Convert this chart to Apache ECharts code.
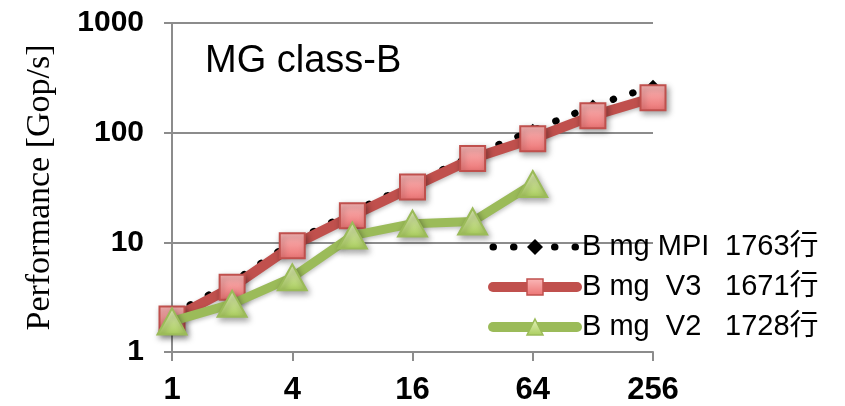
<!DOCTYPE html>
<html>
<head>
<meta charset="utf-8">
<script src="https://cdn.jsdelivr.net/npm/echarts@6/dist/echarts.min.js"></script>
<style>html,body{margin:0;padding:0;background:#fff}#c{width:845px;height:406px}</style>
</head>
<body>
<div id="c"></div>
<script>
const xValues = [1, 2, 4, 8, 16, 32, 64, 128, 256];
const mpiValues = [2.2, 4.3, 10, 19, 34, 62, 105, 175, 265];
const v3Values = [2.0, 3.9, 9.3, 17.5, 32, 58, 88, 143, 208];
const v2Values = [1.9, 2.75, 4.8, 11.5, 14.8, 15.5, 34];
const seriesNames = ['B mg MPI', 'B mg  V3', 'B mg  V2'];
const lineCounts = ['1763行', '1671行', '1728行'];
const titleText = 'MG class-B';
const yAxisName = 'Performance [Gop/s]';

function pairs(vals) { return vals.map((v, i) => [xValues[i], v]); }
const fullNames = seriesNames.map((n, i) => n + '|' + lineCounts[i]);

const chart = echarts.init(document.getElementById('c'), null, {renderer: 'canvas'});
const gray = '#8c8c8c';
const shadow = {shadowBlur: 6, shadowOffsetX: 2, shadowOffsetY: 3, shadowColor: 'rgba(0,0,0,0.35)'};
const redFill = new echarts.graphic.LinearGradient(0, 0, 0, 1, [{offset: 0, color: '#fbb9b9'}, {offset: 1, color: '#ec7373'}]);
const greenFill = new echarts.graphic.LinearGradient(0, 0, 0, 1, [{offset: 0, color: '#e8f4c0'}, {offset: 1, color: '#a9cd5c'}]);
const redFillSmall = new echarts.graphic.LinearGradient(0, 0, 0, 1, [{offset: 0, color: '#fbb9b9'}, {offset: 1, color: '#ec7373'}]);
const greenFillSmall = new echarts.graphic.LinearGradient(0, 0, 0, 1, [{offset: 0, color: '#e8f4c0'}, {offset: 1, color: '#a9cd5c'}]);

chart.setOption({
  animation: false,
  backgroundColor: '#fff',
  title: {
    text: titleText, left: 200, top: 38,
    textStyle: {fontFamily: 'Liberation Sans', fontSize: 38, fontWeight: 'normal', color: '#000'}
  },
  grid: {left: 172, top: 23, width: 481, height: 330, containLabel: false},
  xAxis: {
    type: 'log', logBase: 2, min: 1, max: 256, interval: 2, splitNumber: 4,
    axisLine: {show: true, lineStyle: {color: gray, width: 2}},
    axisTick: {show: true, length: 9, lineStyle: {color: gray, width: 2}},
    splitLine: {show: false},
    minorTick: {show: false},
    axisLabel: {margin: 23, color: '#000', fontWeight: 'bold', fontSize: 31, fontFamily: 'Liberation Sans',
      formatter: function (v) { return String(Math.round(v)); }}
  },
  yAxis: {
    type: 'log', logBase: 10, min: 1, max: 1000,
    name: yAxisName, nameLocation: 'middle', nameGap: 115, nameRotate: 90,
    nameTextStyle: {fontFamily: 'Liberation Serif', fontSize: 34, color: '#000'},
    axisLine: {show: true, lineStyle: {color: gray, width: 2}},
    axisTick: {show: true, length: 8, lineStyle: {color: gray, width: 2}},
    splitLine: {show: true, lineStyle: {color: gray, width: 2}},
    axisLabel: {margin: 28, color: '#000', fontWeight: 'bold', fontSize: 30, fontFamily: 'Liberation Sans',
      formatter: function (v) { return String(Math.round(v)); }}
  },
  legend: {
    orient: 'vertical', left: 483, top: 222, itemWidth: 84, itemHeight: 20, itemGap: 0,
    selectedMode: false,
    data: [
      {name: fullNames[0], itemStyle: {color: '#000', borderWidth: 0}, lineStyle: {color: '#000', width: 7, type: [0.5, 20], cap: 'round'}},
      {name: fullNames[1], itemStyle: {color: redFillSmall, borderColor: '#c0504d', borderWidth: 1.5}, lineStyle: {color: '#c0504d', width: 10, cap: 'round'}},
      {name: fullNames[2], itemStyle: {color: greenFillSmall, borderColor: '#9bbb59', borderWidth: 1.5}, lineStyle: {color: '#9bbb59', width: 10, cap: 'round'}}
    ],
    formatter: function (name) {
      const p = name.split('|');
      return '{a|' + p[0] + '}{b|' + p[1] + '}';
    },
    textStyle: {
      fontSize: 29, color: '#000', lineHeight: 40, fontFamily: 'Liberation Sans, Noto Sans CJK SC',
      rich: {
        a: {width: 143, fontSize: 29, lineHeight: 40, fontFamily: 'Liberation Sans'},
        b: {fontSize: 29, lineHeight: 40, fontFamily: 'Liberation Sans, Noto Sans CJK SC'}
      }
    }
  },
  series: [
    {
      name: fullNames[0], type: 'line', data: pairs(mpiValues),
      symbol: 'diamond', symbolSize: 13,
      itemStyle: {color: '#000'},
      lineStyle: {color: '#000', width: 7, type: [0.5, 20], cap: 'round'},
      z: 2
    },
    {
      name: fullNames[1], type: 'line', data: pairs(v3Values),
      symbol: 'rect', symbolSize: 25,
      itemStyle: Object.assign({color: redFill, borderColor: '#c0504d', borderWidth: 2}, shadow),
      lineStyle: Object.assign({color: '#c0504d', width: 10}, {shadowBlur: 4, shadowOffsetY: 2, shadowColor: 'rgba(0,0,0,0.25)'}),
      z: 3
    },
    {
      name: fullNames[2], type: 'line', data: pairs(v2Values),
      symbol: 'triangle', symbolSize: [29, 26],
      itemStyle: Object.assign({color: greenFill, borderColor: '#9bbb59', borderWidth: 2}, shadow),
      lineStyle: Object.assign({color: '#9bbb59', width: 9}, {shadowBlur: 4, shadowOffsetY: 2, shadowColor: 'rgba(0,0,0,0.25)'}),
      z: 4
    }
  ]
});
</script>
</body>
</html>
